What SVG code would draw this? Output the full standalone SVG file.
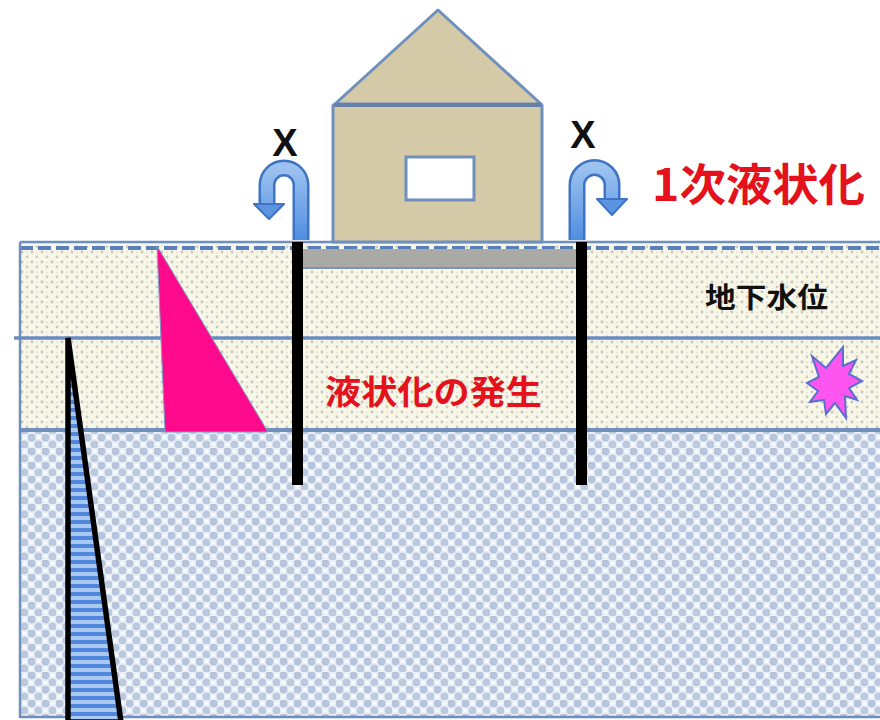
<svg xmlns="http://www.w3.org/2000/svg" width="880" height="720" viewBox="0 0 880 720">
  <defs>
    <pattern id="sand" width="10" height="10" patternUnits="userSpaceOnUse">
      <rect width="10" height="10" fill="#f8f6e6"/>
      <circle cx="2" cy="2" r="1.4" fill="#c4c7bf"/>
      <circle cx="7" cy="7" r="1.4" fill="#cbcdc2"/>
      <circle cx="7" cy="2.5" r="0.8" fill="#d8d9cc"/>
    </pattern>
    <pattern id="gravel" width="14" height="14" patternUnits="userSpaceOnUse">
      <rect width="14" height="14" fill="#e9eef7"/>
      <circle cx="3.5" cy="3.5" r="4" fill="#b6c4dc"/>
      <circle cx="10.5" cy="10.5" r="4" fill="#bccadf"/>
      <circle cx="10.5" cy="3.5" r="1.8" fill="#fafcff"/>
      <circle cx="3.5" cy="10.5" r="1.8" fill="#fafcff"/>
    </pattern>
    <pattern id="stripes" width="8" height="8" patternUnits="userSpaceOnUse">
      <rect width="8" height="8" fill="#a9c8f2"/>
      <rect width="8" height="4" fill="#5288dc"/>
    </pattern>
    <linearGradient id="arrowFill" x1="0" y1="0" x2="0" y2="1">
      <stop offset="0" stop-color="#9cc2f0"/>
      <stop offset="1" stop-color="#4f8ee0"/>
    </linearGradient>
  </defs>
  <style>
    .edge { stroke: #6f8fbd; stroke-width: 2.5; fill: none; }
    .house { fill: #d5caa7; stroke: #6f8fbd; stroke-width: 3; stroke-linejoin: round; }
    .pile { fill: #000; }
    .uturn { fill: none; stroke-linecap: butt; }
    .mark { font-family: "Liberation Sans", Arial, sans-serif; font-weight: bold; font-size: 38px; fill: #111; }
    .red { font-family: "Noto Sans CJK JP", "Noto Sans CJK SC", sans-serif; font-weight: bold; fill: #e3121c; }
    .blk { font-family: "Noto Sans CJK JP", "Noto Sans CJK SC", sans-serif; font-weight: bold; fill: #111; }
  </style>

  <rect width="880" height="720" fill="#ffffff"/>

  <!-- soil layers -->
  <g id="soil">
    <rect x="20" y="242" width="862" height="188" fill="url(#sand)"/>
    <rect x="20" y="430" width="862" height="288" fill="url(#gravel)"/>
    <line x1="20" y1="242" x2="880" y2="242" class="edge"/>
    <line x1="20" y1="248" x2="880" y2="248" stroke="#5b7fb8" stroke-width="4" stroke-dasharray="13 5"/>
    <line x1="20" y1="242" x2="20" y2="718" class="edge"/>
    <line x1="20" y1="430" x2="880" y2="430" stroke="#6f8fbd" stroke-width="4"/>
    <line x1="20" y1="717" x2="880" y2="717" class="edge"/>
    <!-- groundwater line -->
    <line x1="14" y1="338" x2="880" y2="338" stroke="#6a8cc0" stroke-width="3.5"/>
  </g>

  <!-- foundation slab under the house -->
  <g id="foundation">
    <rect x="303" y="249" width="274" height="19" fill="#a9a9a6"/>
    <line x1="303" y1="268" x2="577" y2="268" stroke="#7c94b8" stroke-width="2"/>
  </g>

  <!-- house -->
  <g id="house">
    <polygon class="house" points="335,104 438,10 541,104"/>
    <rect class="house" x="333" y="105" width="209" height="137"/>
    <line x1="334" y1="105" x2="541" y2="105" stroke="#647fa8" stroke-width="4"/>
    <rect x="406" y="157" width="68" height="43" fill="#ffffff" stroke="#6f8fbd" stroke-width="3"/>
  </g>

  <!-- piles -->
  <g id="piles">
    <rect class="pile" x="292" y="242" width="11" height="243"/>
    <rect class="pile" x="576" y="242" width="11" height="243"/>
  </g>

  <!-- pressure diagrams -->
  <g id="pressure-pink">
    <polygon points="157,246 165,432 268,432" fill="#ff0a8c" stroke="#7d9cc8" stroke-width="1"/>
  </g>
  <g id="pressure-water">
    <polygon points="68,338 68,722 121,722" fill="url(#stripes)" stroke="#000" stroke-width="5.5" stroke-linejoin="miter"/>
  </g>

  <!-- burst mark -->
  <g id="burst">
    <polygon points="843,347 843,366 856,360 849,374 862,381 849,388 857,400 845,396 846,418 835,403 826,414 824,400 810,402 818,391 807,383 819,377 812,356 826,368" fill="#ff55f0" stroke="#5b6fcf" stroke-width="2" stroke-linejoin="miter"/>
  </g>

  <!-- connectors: U-turn arrows -->
  <g id="connectors">
    <g id="uturn-left">
      <path class="uturn" d="M301,240 V185 A17,17 0 0 0 267,185 V205" stroke="#3f74c4" stroke-width="17"/>
      <path class="uturn" d="M301,240 V185 A17,17 0 0 0 267,185 V206" stroke="url(#arrowFill)" stroke-width="12"/>
      <polygon points="254,204 284,204 269,219" fill="#5b95e2" stroke="#3f74c4" stroke-width="2" stroke-linejoin="round"/>
    </g>
    <g id="uturn-right">
      <path class="uturn" d="M577,240 V185 A17.5,17.5 0 0 1 612,185 V200" stroke="#3f74c4" stroke-width="17"/>
      <path class="uturn" d="M577,240 V185 A17.5,17.5 0 0 1 612,185 V201" stroke="url(#arrowFill)" stroke-width="12"/>
      <polygon points="597,199 627,199 612,215" fill="#5b95e2" stroke="#3f74c4" stroke-width="2" stroke-linejoin="round"/>
    </g>
  </g>

  <!-- labels -->
  <g id="labels">
    <text class="mark" x="285" y="156" text-anchor="middle">X</text>
    <text class="mark" x="583" y="148" text-anchor="middle">X</text>
    <text class="red" x="652" y="201" font-size="44" textLength="213" lengthAdjust="spacingAndGlyphs">1次液状化</text>
    <text class="blk" x="705" y="308" font-size="28" textLength="123" lengthAdjust="spacingAndGlyphs">地下水位</text>
    <text class="red" x="325" y="404" font-size="33" textLength="217" lengthAdjust="spacingAndGlyphs">液状化の発生</text>
  </g>
</svg>
